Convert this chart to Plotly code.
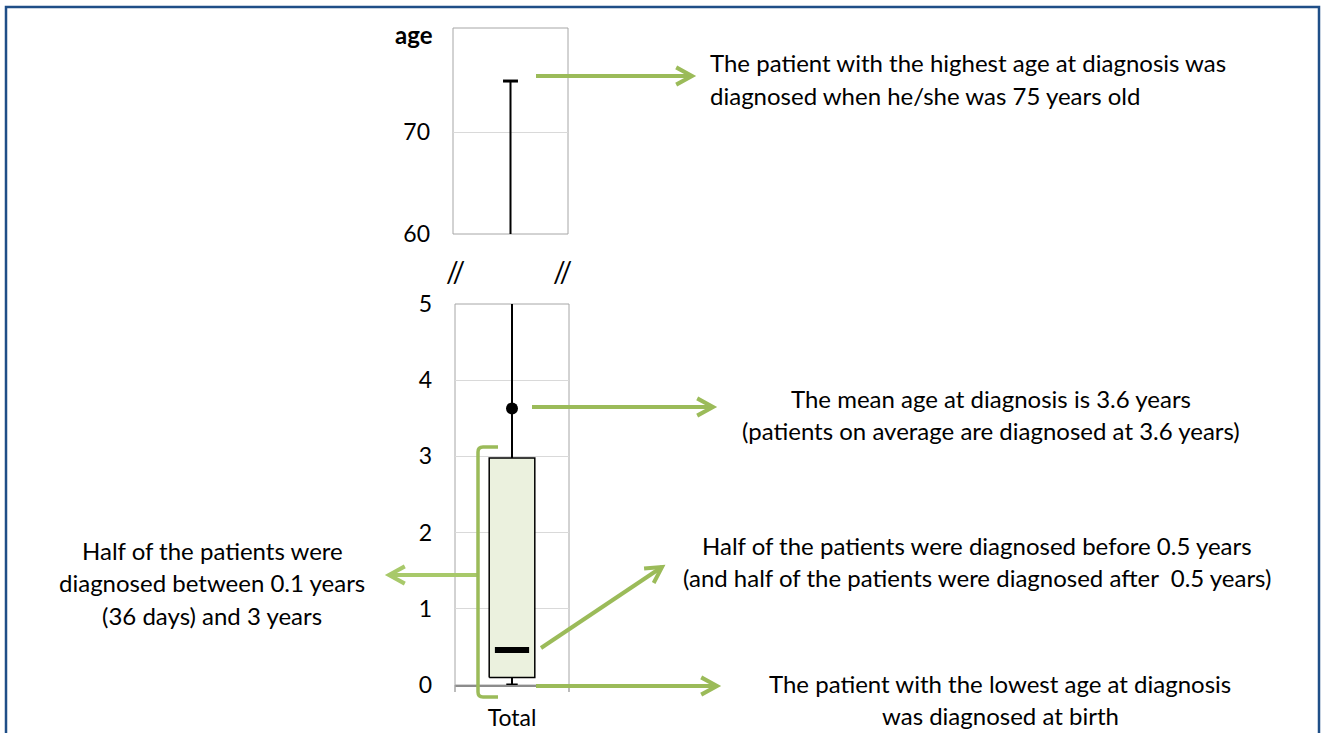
import math
import plotly.graph_objects as go

# box plot summary (age at diagnosis, years)
categories = ['Total']
age_min = [0]
age_q1 = [0.1]
age_median = [0.46]
age_q3 = [2.98]
age_mean = [3.63]
age_max = [75]

top_ticks = [60, 70]
bottom_ticks = [0, 1, 2, 3, 4, 5]

W, H = 1321, 733
GREEN = '#9bbb59'
GRID = '#d9d9d9'
FRAME = '#a6a6a6'
FONT = 'Lato'


def px(x):
    return x / W


def py(y):
    return 1 - y / H


fig = go.Figure()

# draw the same box in both panels, each panel clips to its own range
for xa, ya in [('x', 'y'), ('x2', 'y2')]:
    c = 0.5
    fig.add_trace(go.Scatter(
        x=[c, c], y=[age_q3[0], age_max[0]], xaxis=xa, yaxis=ya,
        mode='lines', line=dict(color='black', width=2), hoverinfo='skip'))
    fig.add_trace(go.Scatter(
        x=[c - 0.065, c + 0.065], y=[age_max[0], age_max[0]], xaxis=xa, yaxis=ya,
        mode='lines', line=dict(color='black', width=3), hoverinfo='skip'))
    fig.add_trace(go.Scatter(
        x=[c, c], y=[age_min[0], age_q1[0]], xaxis=xa, yaxis=ya,
        mode='lines', line=dict(color='black', width=2), hoverinfo='skip'))
    fig.add_trace(go.Scatter(
        x=[c - 0.05, c + 0.05], y=[age_min[0], age_min[0]], xaxis=xa, yaxis=ya,
        mode='lines', line=dict(color='black', width=3), hoverinfo='skip'))
    fig.add_trace(go.Scatter(
        x=[c - 0.2, c + 0.2, c + 0.2, c - 0.2, c - 0.2],
        y=[age_q1[0], age_q1[0], age_q3[0], age_q3[0], age_q1[0]],
        xaxis=xa, yaxis=ya, mode='lines', fill='toself', fillcolor='#ebf1de',
        line=dict(color='black', width=1.5), hoverinfo='skip'))
    fig.add_trace(go.Scatter(
        x=[c - 0.15, c + 0.15], y=[age_median[0], age_median[0]], xaxis=xa, yaxis=ya,
        mode='lines', line=dict(color='black', width=6), hoverinfo='skip'))
    fig.add_trace(go.Scatter(
        x=[c], y=[age_mean[0]], xaxis=xa, yaxis=ya, mode='markers',
        marker=dict(color='black', size=12), cliponaxis=True, hoverinfo='skip'))

shapes = []

# outer blue border
shapes.append(dict(type='rect', xref='paper', yref='paper',
                   x0=px(6), x1=px(1319), y0=py(760), y1=py(7),
                   line=dict(color='#1f4e87', width=2.5)))

# plot frames
for xr, yr in [('x domain', 'y domain'), ('x2 domain', 'y2 domain')]:
    shapes.append(dict(type='rect', xref=xr, yref=yr, x0=0, x1=1, y0=0, y1=1,
                       line=dict(color=FRAME, width=1), layer='below'))

# small end ticks under the bottom axis
for xv in [0, 1]:
    shapes.append(dict(type='line', xref='x2 domain', yref='paper',
                       x0=xv, x1=xv, y0=py(685), y1=py(692),
                       line=dict(color=FRAME, width=1.5)))


def arrow(x0, y0, x1, y1, color=GREEN, width=4):
    shapes.append(dict(type='line', xref='paper', yref='paper',
                       x0=px(x0), y0=py(y0), x1=px(x1), y1=py(y1),
                       line=dict(color=color, width=width)))
    ang = math.atan2(y1 - y0, x1 - x0)
    arm = 18
    pts = []
    for d in (0.5, -0.5):
        a = ang + math.pi + d
        pts.append((x1 + arm * math.cos(a), y1 + arm * math.sin(a)))
    path = 'M {} {} L {} {} L {} {}'.format(
        px(pts[0][0]), py(pts[0][1]), px(x1), py(y1), px(pts[1][0]), py(pts[1][1]))
    shapes.append(dict(type='path', xref='paper', yref='paper', path=path,
                       line=dict(color=color, width=width)))


arrow(536, 76, 692, 76)
arrow(532, 407, 713, 407)
arrow(541, 648, 662, 567)
arrow(536, 686, 717, 686)
arrow(479, 575, 389, 575, color='#a8c96a')

# bracket around the box
r = 5
bp = ('M {} {} L {} {} Q {} {} {} {} L {} {} Q {} {} {} {} L {} {}').format(
    px(498), py(447), px(478 + r), py(447), px(478), py(447), px(478), py(447 + r),
    px(478), py(697 - r), px(478), py(697), px(478 + r), py(697), px(498), py(697))
shapes.append(dict(type='path', xref='paper', yref='paper', path=bp,
                   line=dict(color=GREEN, width=3.5)))

annotations = []


def text_lines(lines, x, y0, anchor, size, gap=32):
    for i, t in enumerate(lines):
        annotations.append(dict(text=t, x=px(x), y=py(y0 + i * gap), xref='paper', yref='paper',
                                xanchor=anchor, yanchor='middle', showarrow=False,
                                font=dict(family=FONT, size=size, color='black')))


text_lines(['The patient with the highest age at diagnosis was',
            'diagnosed when he/she was 75 years old'], 708, 63, 'left', 24)
text_lines(['The mean age at diagnosis is 3.6 years',
            '(patients on average are diagnosed at 3.6 years)'], 991, 398, 'center', 24)
text_lines(['Half of the patients were diagnosed before 0.5 years',
            '(and half of the patients were diagnosed after  0.5 years)'], 977, 545, 'center', 24)
text_lines(['The patient with the lowest age at diagnosis',
            'was diagnosed at birth'], 1000, 683, 'center', 24)
text_lines(['Half of the patients were',
            'diagnosed between 0.1 years',
            '(36 days) and 3 years'], 212, 550, 'center', 24, gap=32.5)

annotations.append(dict(text='<b>age</b>', x=px(414), y=py(35), xref='paper', yref='paper',
                        xanchor='center', yanchor='middle', showarrow=False,
                        font=dict(family=FONT, size=24, color='black')))
for xv in [455, 562]:
    annotations.append(dict(text='//', x=px(xv), y=py(271), xref='paper', yref='paper',
                            xanchor='center', yanchor='middle', showarrow=False,
                            font=dict(family=FONT, size=28, color='black')))

axis_font = dict(family=FONT, size=23, color='black')

fig.update_layout(
    width=W, height=H,
    margin=dict(l=0, r=0, t=0, b=0, pad=0),
    paper_bgcolor='white', plot_bgcolor='white',
    showlegend=False,
    shapes=shapes,
    annotations=annotations,
    xaxis=dict(domain=[px(453), px(568)], range=[0, 1], anchor='y', automargin=False,
               showticklabels=False, showgrid=False, zeroline=False, fixedrange=True),
    yaxis=dict(domain=[py(234), py(28)], range=[60, 80.2], anchor='x', automargin=False,
               tickvals=top_ticks, ticktext=[str(v) for v in top_ticks],
               tickfont=axis_font, ticklabelstandoff=22,
               showgrid=True, gridcolor=GRID, zeroline=False),
    xaxis2=dict(domain=[px(455), px(569)], range=[0, 1], anchor='y2', automargin=False,
                tickvals=[0.5], ticktext=categories, tickfont=axis_font,
                ticklabelstandoff=12,
                showline=True, linecolor='#8c8c8c', linewidth=1.5,
                showgrid=False, zeroline=False),
    yaxis2=dict(domain=[py(685), py(304)], range=[0, 5], anchor='x2', automargin=False,
                tickvals=bottom_ticks, ticktext=[str(v) for v in bottom_ticks],
                tickfont=axis_font, ticklabelstandoff=22,
                showgrid=True, gridcolor=GRID, zeroline=False),
)

# drop the default 8px body margin so the figure sits at the page corner
fig.write_html("out.html", config={'displayModeBar': False},
               post_script="document.body.style.margin='0';")
